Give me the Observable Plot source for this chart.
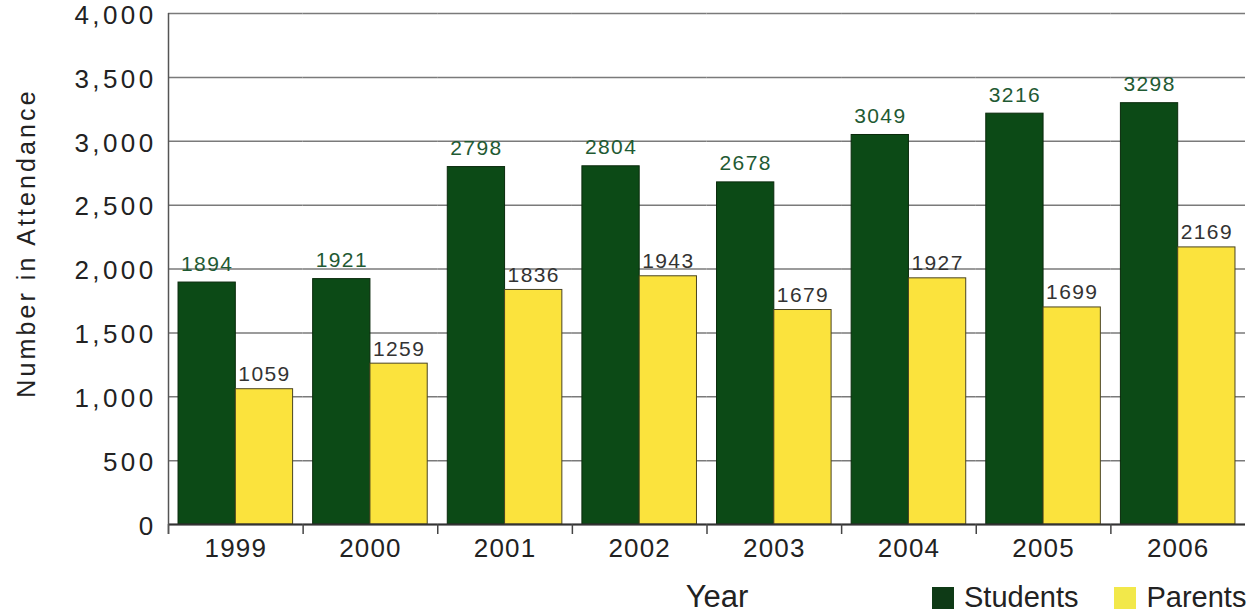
<!DOCTYPE html>
<html>
<head>
<meta charset="utf-8">
<script src="https://cdn.jsdelivr.net/npm/d3@7"></script>
<script src="https://cdn.jsdelivr.net/npm/@observablehq/plot@0.6"></script>
<style>
  html, body { margin: 0; padding: 0; background: #fff; }
  #wrap { position: relative; width: 1249px; height: 614px; overflow: hidden; font-family: "Liberation Sans", Arial, sans-serif; }
  #legend { position: absolute; left: 932px; top: 581px; width: 330px; white-space: nowrap; }
  g[aria-label="y-axis tick label"] text { letter-spacing: 3.4px; }
  g[aria-label="fx-axis tick label"] text { letter-spacing: 1.2px; }
  text[aria-label="value-label"] { letter-spacing: 1.4px; }
  text[aria-label="ylabel"] { letter-spacing: 3.1px; }
  .lg-swatches { font-family: "Liberation Sans", Arial, sans-serif !important; font-size: 29px !important; color: #222; display: flex !important; flex-wrap: nowrap !important; align-items: center; width: 330px; }
  .lg-swatch { margin-right: 36px !important; display: inline-flex; align-items: center; }
  .lg-swatch svg { margin-right: 10px !important; }
</style>
</head>
<body>
<div id="wrap"><div id="chart"></div><div id="legend"></div></div>
<script>
const years = ["1999", "2000", "2001", "2002", "2003", "2004", "2005", "2006"];
const seriesNames = ["Students", "Parents"];
const students = [1894, 1921, 2798, 2804, 2678, 3049, 3216, 3298];
const parents = [1059, 1259, 1836, 1943, 1679, 1927, 1699, 2169];
const yTicks = [0, 500, 1000, 1500, 2000, 2500, 3000, 3500, 4000];

const table = years.flatMap((year, i) => [
  {year, group: "Students", value: students[i]},
  {year, group: "Parents", value: parents[i]}
]);

const W = 1249, H = 614, ML = 168, MR = 4, MT = 13, MB = 90;
const halfStep = (W - ML - MR) / years.length / 2;
const colors = ["#0c4a16", "#fbe33d"];

const chart = Plot.plot({
  width: W, height: H,
  marginLeft: ML, marginRight: MR, marginTop: MT, marginBottom: MB,
  style: {fontFamily: "'Liberation Sans', Arial, sans-serif", background: "#fff", color: "#222"},
  fx: {domain: years, padding: 0, round: false, label: null, axis: null},
  x: {domain: seriesNames, paddingInner: 0, paddingOuter: 0.175, round: false, axis: null},
  y: {domain: [0, 4000], axis: null},
  color: {domain: seriesNames, range: colors},
  marks: [
    Plot.gridY(yTicks, {stroke: "#7a7a7a", strokeOpacity: 1, strokeWidth: 1.5}),
    Plot.barY(table, {fx: "year", x: "group", y: "value", fill: "group",
      stroke: d => d.group === "Students" ? "#0a2a0c" : "#4a4420", strokeWidth: 1}),
    Plot.ruleY([0], {stroke: "#333", strokeWidth: 2}),
    Plot.text(table.filter(d => d.group === "Students"), {fx: "year", x: "group", y: "value", text: d => String(d.value),
      lineAnchor: "bottom", dy: -12, fontSize: 21, fill: "#1f5a33", ariaLabel: () => "value-label"}),
    Plot.text(table.filter(d => d.group === "Parents"), {fx: "year", x: "group", y: "value", text: d => String(d.value),
      lineAnchor: "bottom", dy: -8, fontSize: 21, fill: "#333", ariaLabel: () => "value-label"}),
    Plot.axisY(yTicks, {tickSize: 0, tickPadding: 12, dy: 2, fontSize: 26, tickFormat: d3.format(","), label: null, fill: "#222"}),
    Plot.text(["Number in Attendance"], {fx: () => "1999", frameAnchor: "left", rotate: -90, textAnchor: "middle",
      dx: -142, dy: -26, fontSize: 25, fill: "#222", ariaLabel: () => "ylabel"}),
    Plot.axisFx({anchor: "bottom", tickSize: 0, tickPadding: 14, fontSize: 26, label: null, fill: "#222"}),
    Plot.text(["Year"], {fx: () => "2003", frameAnchor: "bottom-left", textAnchor: "middle", lineAnchor: "bottom",
      dx: 10, dy: 82, fontSize: 31, fill: "#222"}),
    Plot.axisFx({anchor: "bottom", tickSize: 10, text: null, label: null, dx: -halfStep, stroke: "#444", strokeWidth: 1.5})
  ]
});
document.getElementById("chart").appendChild(chart);

// left axis line through Plot's own scales
const leftLine = Plot.plot({
  width: W, height: H, marginLeft: ML, marginRight: MR, marginTop: MT, marginBottom: MB,
  x: {domain: [0, 1], axis: null},
  y: {domain: [0, 4000], axis: null},
  style: {background: "transparent"},
  marks: [Plot.ruleX([0], {y1: 4000, y2: 0, insetBottom: -10, stroke: "#555", strokeWidth: 1.5})]
});
leftLine.style.position = "absolute";
leftLine.style.left = "0px";
leftLine.style.top = "0px";
leftLine.style.pointerEvents = "none";
document.getElementById("wrap").appendChild(leftLine);

const legend = Plot.legend({
  color: {domain: seriesNames, range: ["#0e3a16", "#f2e84a"]},
  legend: "swatches", swatchSize: 22, className: "lg"
});
document.getElementById("legend").appendChild(legend);
</script>
</body>
</html>
